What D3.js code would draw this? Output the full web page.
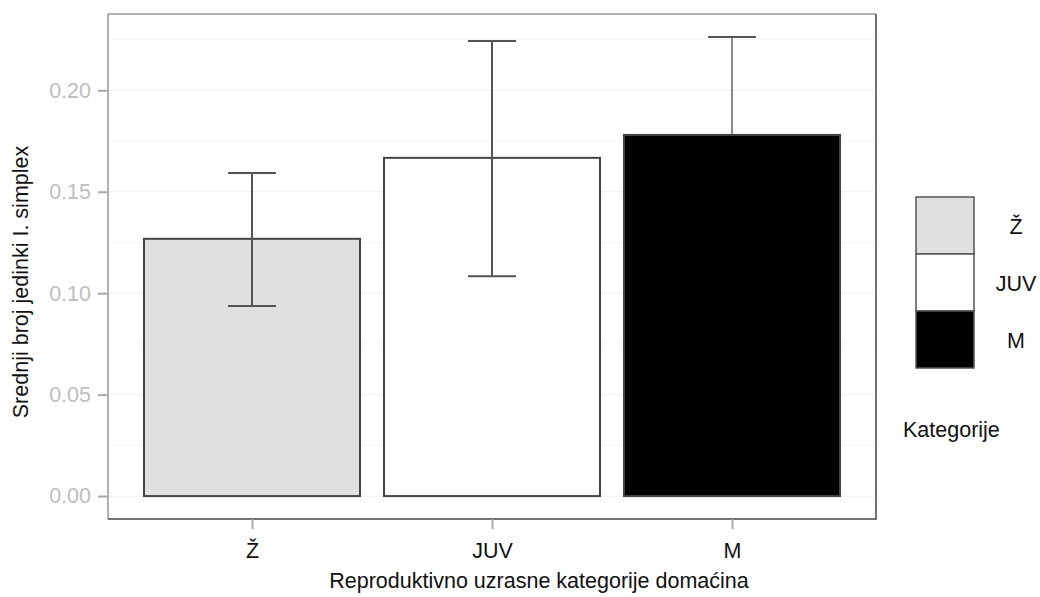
<!DOCTYPE html>
<html>
<head>
<meta charset="utf-8">
<script src="https://cdn.jsdelivr.net/npm/d3@7"></script>
<style>
  body { margin: 0; background: #fff; }
  svg text { font-family: "Liberation Sans", Arial, sans-serif; }
</style>
</head>
<body>
<div id="chart"></div>
<script>
var categories = ["Ž", "JUV", "M"];
var means = [0.1268, 0.1667, 0.178];
var lower = [0.0937, 0.1083, 0.130];
var upper = [0.1592, 0.2243, 0.2263];
var fills = ["#e0e0e0", "#ffffff", "#000000"];
var yTicks = [0, 0.05, 0.10, 0.15, 0.20];
var yMinor = [0.025, 0.075, 0.125, 0.175, 0.225];

var W = 1040, H = 597;
var panel = { left: 108, top: 14, right: 876, bottom: 519 };
var fs = 21.5;

var svg = d3.select("#chart").append("svg")
    .attr("width", W)
    .attr("height", H);

var x = d3.scaleLinear()
    .domain([0.4, 3.6])
    .range([panel.left, panel.right]);

var y = d3.scaleLinear()
    .domain([-0.0113, 0.2376])
    .range([panel.bottom, panel.top]);

// faint grid
svg.selectAll(".minor").data(yMinor).enter().append("line")
    .attr("x1", panel.left).attr("x2", panel.right)
    .attr("y1", function(d){ return y(d); }).attr("y2", function(d){ return y(d); })
    .attr("stroke", "#f5f5f5").attr("stroke-width", 1);
svg.selectAll(".major").data(yTicks).enter().append("line")
    .attr("x1", panel.left).attr("x2", panel.right)
    .attr("y1", function(d){ return y(d); }).attr("y2", function(d){ return y(d); })
    .attr("stroke", "#f0f0f0").attr("stroke-width", 1);

// error bars (drawn first so the black bar hides the lower half of its own)
function drawErr(sel) {
    sel.attr("stroke", "#555").attr("stroke-width", 2).attr("fill", "none");
    sel.append("line")
        .attr("x1", function(d){ return x(d + 1); }).attr("x2", function(d){ return x(d + 1); })
        .attr("y1", function(d){ return y(lower[d]); }).attr("y2", function(d){ return y(upper[d]); })
        .attr("stroke", function(d){ return d == 2 ? "#8a8a8a" : "#555"; });
    sel.append("line")
        .attr("x1", function(d){ return x(d + 0.9); }).attr("x2", function(d){ return x(d + 1.1); })
        .attr("y1", function(d){ return y(upper[d]); }).attr("y2", function(d){ return y(upper[d]); });
    sel.append("line")
        .attr("x1", function(d){ return x(d + 0.9); }).attr("x2", function(d){ return x(d + 1.1); })
        .attr("y1", function(d){ return y(lower[d]); }).attr("y2", function(d){ return y(lower[d]); });
}
drawErr(svg.selectAll(".errBack").data([2]).enter().append("g"));

// bars
svg.selectAll(".bar").data(categories).enter().append("rect")
    .attr("class", "bar")
    .attr("x", function(d, i){ return x(i + 1 - 0.45); })
    .attr("width", x(1.45) - x(0.55))
    .attr("y", function(d, i){ return y(means[i]); })
    .attr("height", function(d, i){ return y(0) - y(means[i]); })
    .attr("fill", function(d, i){ return fills[i]; })
    .attr("stroke", "#444")
    .attr("stroke-width", 2);

drawErr(svg.selectAll(".errFront").data([0, 1]).enter().append("g"));

// panel border
svg.append("path")
    .attr("d", "M" + panel.right + "," + panel.top + "H" + panel.left + "V" + panel.bottom)
    .attr("stroke", "#999").attr("stroke-width", 1.5).attr("fill", "none");
svg.append("path")
    .attr("d", "M" + panel.left + "," + panel.bottom + "H" + panel.right + "V" + panel.top)
    .attr("stroke", "#444").attr("stroke-width", 1.5).attr("fill", "none");

// y axis
var yAxis = svg.append("g").attr("transform", "translate(" + panel.left + ",0)")
    .call(d3.axisLeft(y).tickValues(yTicks).tickFormat(d3.format(".2f")).tickSize(10).tickPadding(7));
yAxis.select(".domain").remove();
yAxis.selectAll(".tick line").attr("stroke", "#aaa").attr("stroke-width", 2);
yAxis.selectAll(".tick text").attr("fill", "#bdbdbd").attr("font-size", fs);

// x axis
var xAxis = svg.append("g").attr("transform", "translate(0," + panel.bottom + ")")
    .call(d3.axisBottom(x).tickValues([1, 2, 3]).tickFormat(function(d){ return categories[d - 1]; }).tickSize(10).tickPadding(0));
xAxis.select(".domain").remove();
xAxis.selectAll(".tick line").attr("stroke", "#aaa").attr("stroke-width", 2);
xAxis.selectAll(".tick text").attr("fill", "#111").attr("font-size", fs)
    .attr("dy", null).attr("y", 39);

// axis titles
svg.append("text")
    .attr("x", (panel.left + panel.right) / 2 + 47)
    .attr("y", 588)
    .attr("text-anchor", "middle")
    .attr("font-size", fs)
    .attr("fill", "#111")
    .text("Reproduktivno uzrasne kategorije domaćina");

svg.append("text")
    .attr("transform", "translate(28,282) rotate(-90)")
    .attr("text-anchor", "middle")
    .attr("font-size", fs)
    .attr("fill", "#111")
    .text("Srednji broj jedinki I. simplex");

// legend
var legTop = 197, legBox = 57, legX = 916, legW = 58;
var leg = svg.selectAll(".leg").data(categories).enter().append("g")
    .attr("transform", function(d, i){ return "translate(" + legX + "," + (legTop + i * legBox) + ")"; });
leg.append("rect")
    .attr("width", legW).attr("height", legBox)
    .attr("fill", function(d, i){ return fills[i]; })
    .attr("stroke", "#555").attr("stroke-width", 1.5);
leg.append("text")
    .attr("x", 100).attr("y", legBox / 2 + 8)
    .attr("text-anchor", "middle")
    .attr("font-size", fs)
    .attr("fill", "#111")
    .text(function(d){ return d; });

svg.append("text")
    .attr("x", 903).attr("y", 437)
    .attr("font-size", fs)
    .attr("fill", "#111")
    .text("Kategorije");
</script>
</body>
</html>
